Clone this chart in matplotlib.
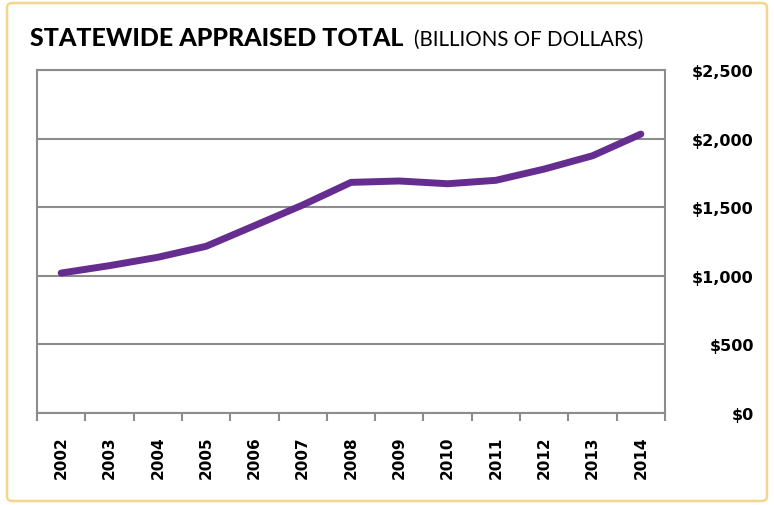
import matplotlib.pyplot as plt
from matplotlib.patches import FancyBboxPatch

years = ['2002', '2003', '2004', '2005', '2006', '2007', '2008',
         '2009', '2010', '2011', '2012', '2013', '2014']
appraised = [1020, 1074, 1135, 1215, 1365, 1516, 1681,
             1691, 1671, 1696, 1778, 1875, 2033]
y_ticks = [0, 500, 1000, 1500, 2000, 2500]
y_labels = ['$0', '$500', '$1,000', '$1,500', '$2,000', '$2,500']

grey = '#8c8c8c'
purple = '#662d91'


def main():
    fig = plt.figure(figsize=(7.74, 5.06), dpi=100)

    # yellow rounded frame round the whole graphic
    frame = FancyBboxPatch((7 / 774, 4 / 506), 760 / 774, 498 / 506,
                           boxstyle='round,pad=0,rounding_size=0.008',
                           transform=fig.transFigure, fill=False,
                           edgecolor='#f3d58c', linewidth=1.8)
    fig.patches.append(frame)

    ax = fig.add_axes([37 / 774, 92 / 506, 628 / 774, 343 / 506])
    x = list(range(len(years)))
    ax.plot(x, appraised, color=purple, linewidth=5, solid_capstyle='round', zorder=3)

    ax.set_xlim(-0.5, len(years) - 0.5)
    ax.set_ylim(0, 2500)

    # category ticks sit between the years, labels in the middle
    ax.set_xticks([i - 0.5 for i in range(len(years) + 1)])
    ax.set_xticklabels([])
    ax.set_xticks(x, minor=True)
    ax.set_xticklabels(years, minor=True, rotation=90, fontsize=11,
                       fontweight='bold', family='DejaVu Sans', va='top')
    ax.tick_params(axis='x', which='major', length=6, width=1.5, color=grey)
    ax.tick_params(axis='x', which='minor', length=0, pad=16)

    ax.set_yticks(y_ticks)
    ax.set_yticklabels(y_labels, fontsize=11.5, fontweight='bold', family='DejaVu Sans')
    ax.yaxis.tick_right()
    ax.tick_params(axis='y', length=0, pad=64)
    for lab in ax.get_yticklabels():
        lab.set_horizontalalignment('right')

    ax.grid(axis='y', color=grey, linewidth=1.5)
    ax.set_axisbelow(True)
    for s in ax.spines.values():
        s.set_color(grey)
        s.set_linewidth(1.5)

    fig.text(30 / 774, 460 / 506, 'STATEWIDE APPRAISED TOTAL', fontsize=18,
             fontweight='black', family='Lato', va='baseline')
    fig.text(414 / 774, 460 / 506, '(BILLIONS OF DOLLARS)', fontsize=14.8,
             family='Lato', va='baseline')

    fig.savefig('out.png', dpi=100)


main()
